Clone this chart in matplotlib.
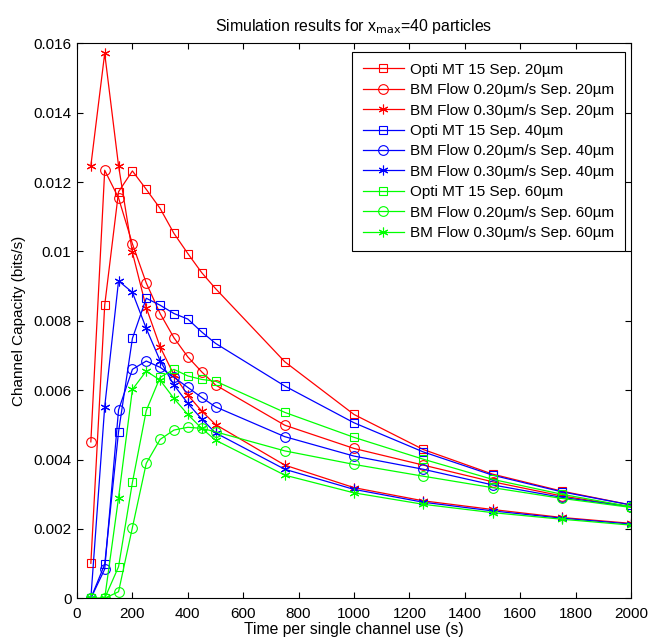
import matplotlib
matplotlib.use("Agg")
import matplotlib.pyplot as plt
from matplotlib.ticker import FuncFormatter

plt.rcParams['font.family'] = ['Liberation Sans', 'DejaVu Sans']

x = [50, 100, 150, 200, 250, 300, 350, 400, 450, 500, 750, 1000, 1250, 1500, 1750, 2000]

opti_20 = [0.00101, 0.00845, 0.01172, 0.01232, 0.01179, 0.01124, 0.01052, 0.00994, 0.00939, 0.00893,
           0.00682, 0.00530, 0.00429, 0.00358, 0.00309, 0.00269]
bm020_20 = [0.00451, 0.01234, 0.01154, 0.01022, 0.00909, 0.00821, 0.00751, 0.00696, 0.00653, 0.00615,
            0.00499, 0.00432, 0.00384, 0.00336, 0.00295, 0.00264]
bm030_20 = [0.01247, 0.01571, 0.01247, 0.00997, 0.00838, 0.00725, 0.00644, 0.00586, 0.00540, 0.00501,
            0.00384, 0.00319, 0.00281, 0.00256, 0.00233, 0.00216]
opti_40 = [0.0, 0.00098, 0.00480, 0.00749, 0.00865, 0.00845, 0.00821, 0.00805, 0.00768, 0.00735,
           0.00612, 0.00506, 0.00422, 0.00355, 0.00307, 0.00269]
bm020_40 = [0.0, 0.00084, 0.00543, 0.00660, 0.00684, 0.00666, 0.00637, 0.00608, 0.00579, 0.00552,
            0.00466, 0.00410, 0.00372, 0.00327, 0.00291, 0.00264]
bm030_40 = [0.0, 0.00552, 0.00915, 0.00882, 0.00778, 0.00685, 0.00615, 0.00562, 0.00517, 0.00477,
            0.00372, 0.00314, 0.00277, 0.00252, 0.00231, 0.00214]
opti_60 = [0.0, 0.0, 0.00091, 0.00334, 0.00541, 0.00637, 0.00660, 0.00641, 0.00631, 0.00626,
           0.00536, 0.00464, 0.00401, 0.00343, 0.00300, 0.00264]
bm020_60 = [0.0, 0.0, 0.00019, 0.00204, 0.00389, 0.00458, 0.00485, 0.00493, 0.00490, 0.00480,
            0.00425, 0.00386, 0.00352, 0.00319, 0.00288, 0.00262]
bm030_60 = [0.0, 0.0, 0.00290, 0.00602, 0.00655, 0.00629, 0.00576, 0.00530, 0.00490, 0.00456,
            0.00355, 0.00304, 0.00271, 0.00247, 0.00228, 0.00211]

labels = ["Opti MT 15 Sep. 20µm", "BM Flow 0.20µm/s Sep. 20µm", "BM Flow 0.30µm/s Sep. 20µm",
          "Opti MT 15 Sep. 40µm", "BM Flow 0.20µm/s Sep. 40µm", "BM Flow 0.30µm/s Sep. 40µm",
          "Opti MT 15 Sep. 60µm", "BM Flow 0.20µm/s Sep. 60µm", "BM Flow 0.30µm/s Sep. 60µm"]
series = [opti_20, bm020_20, bm030_20, opti_40, bm020_40, bm030_40, opti_60, bm020_60, bm030_60]
colors = ["#ff0000"] * 3 + ["#0000ff"] * 3 + ["#00ff00"] * 3
markers = ["s", "o", (6, 2, 0)] * 3
msizes = [6, 7, 7] * 3

W, H = 650, 638
L, R, T, B = 77, 631, 43.3, 598.3

fig = plt.figure(figsize=(W / 100, H / 100), dpi=100)
ax = fig.add_axes([L / W, 1 - B / H, (R - L) / W, (B - T) / H])

for y, lab, c, m, ms in zip(series, labels, colors, markers, msizes):
    ax.plot(x, y, color=c, marker=m, markersize=ms, markerfacecolor='none',
            markeredgecolor=c, markeredgewidth=0.8, linewidth=0.9, label=lab)

ax.set_xlim(0, 2000)
ax.set_ylim(0, 0.016)
ax.set_xticks(range(0, 2001, 200))
ax.set_yticks([i * 0.002 for i in range(9)])
ax.yaxis.set_major_formatter(FuncFormatter(lambda v, p: "%g" % round(v, 4)))
ax.tick_params(direction='in', top=True, right=True, labelsize=11, length=4, width=0.8)
ax.tick_params(axis='x', pad=6)
ax.tick_params(axis='y', pad=4)
for s in ax.spines.values():
    s.set_linewidth(0.8)

ax.set_xlabel("Time per single channel use (s)", fontsize=11.3, labelpad=1)
ax.set_ylabel("Channel Capacity (bits/s)", fontsize=11, labelpad=5)
ax.set_title(r"Simulation results for x$_{\mathrm{max}}$=40 particles", fontsize=11.4, pad=9)

leg = ax.legend(loc='upper right', fontsize=11, fancybox=False, framealpha=1,
                edgecolor='black', handlelength=2.7, borderpad=0.7, labelspacing=0.42,
                handletextpad=0.4, borderaxespad=0,
                bbox_to_anchor=((625 - L) / (R - L), (B - 52) / (B - T)))
leg.get_frame().set_linewidth(0.8)

fig.savefig("out.png", dpi=100)
